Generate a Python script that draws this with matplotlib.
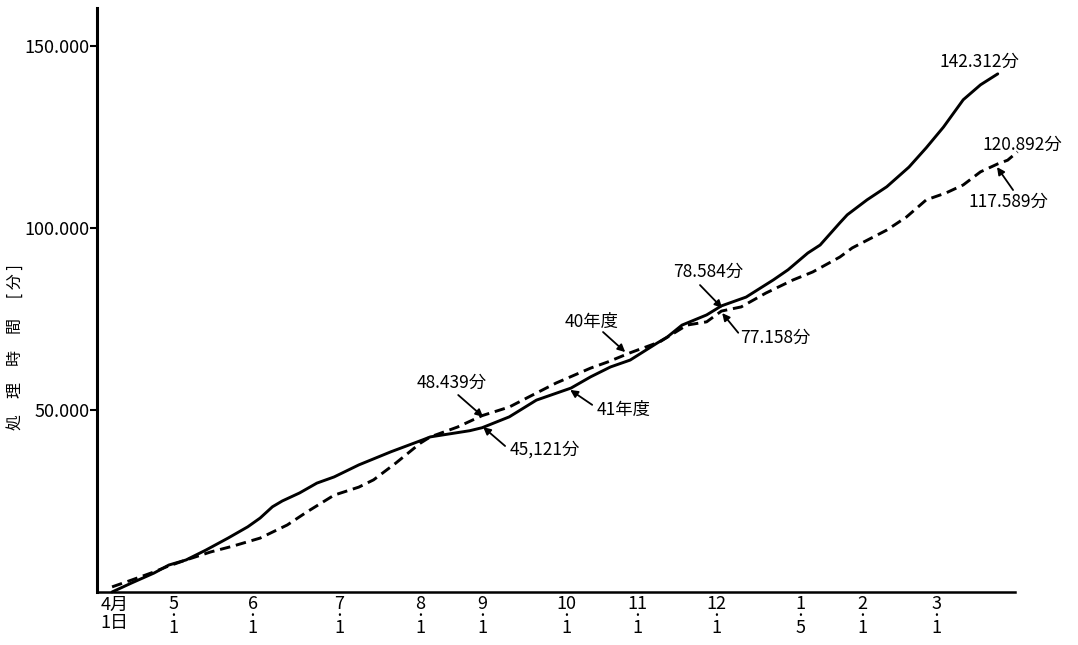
import matplotlib
matplotlib.use("Agg")
import matplotlib.pyplot as plt

plt.rcParams['font.family'] = ['Noto Sans CJK JP', 'DejaVu Sans']

# x = position along the year axis (0 = 4月1日), y = cumulative minutes
days_41 = [0, 8, 17, 23, 30, 38, 47, 55, 60, 65, 69, 76, 83, 90, 100, 113, 126, 129, 145, 150,
           161, 172, 186, 194, 202, 210, 221, 225, 231, 241, 247, 257, 268, 274, 282, 287, 295, 298,
           306, 314, 323, 330, 337, 345, 352, 359]
mins_41 = [0, 2500, 5200, 7400, 8800, 11500, 14800, 17900, 20300, 23400, 25000, 27200, 29900, 31600,
           34900, 38500, 41800, 42600, 44300, 45121, 48100, 52700, 56000, 59100, 61800, 63700, 68400,
           70000, 73300, 76100, 78584, 81000, 85700, 88500, 93100, 95300, 101400, 103600, 107700,
           111300, 116700, 122000, 127700, 135200, 139300, 142312]

days_40 = [0, 8, 17, 22, 30, 40, 49, 60, 71, 79, 90, 100, 106, 115, 125, 129, 140, 150, 161, 169,
           180, 194, 201, 210, 222, 233, 241, 247, 255, 265, 276, 284, 295, 300, 314, 322, 330, 338,
           345, 352, 359, 363, 367]
mins_40 = [1400, 3300, 5500, 6900, 8800, 11000, 12600, 14800, 18400, 22000, 26600, 28800, 30800,
           35400, 40900, 42600, 45300, 48439, 50800, 53600, 57400, 61500, 63200, 65700, 68700, 73300,
           74200, 77158, 78300, 82100, 85700, 87900, 92000, 94500, 99400, 103000, 107700, 109600,
           111800, 115400, 117589, 118600, 120892]

tick_days = [1, 25, 57, 92, 125, 150, 184, 213, 245, 279, 304, 334]
tick_labels = ["4月\n1日", "5\n·\n1", "6\n·\n1", "7\n·\n1", "8\n·\n1", "9\n·\n1", "10\n·\n1",
               "11\n·\n1", "12\n·\n1", "1\n·\n5", "2\n·\n1", "3\n·\n1"]
ytick_vals = [50000, 100000, 150000]
ytick_labels = ["50.000", "100.000", "150.000"]

# (text, text position, arrow tail, arrow head)
notes = [
    ("142.312分", (335.5, 145600), None, None),
    ("120.892分", (352.7, 122800), None, None),
    ("117.589分", (347.0, 107100), (365.2, 110400), (358.7, 116700)),
    ("78.584分", (227.4, 87900), (238.3, 84300), (247.3, 78000)),
    ("77.158分", (254.6, 69800), (253.8, 71200), (247.3, 76600)),
    ("40年度", (183.6, 74200), (199.0, 71400), (208.0, 65900)),
    ("41年度", (196.6, 50000), (194.6, 51400), (185.7, 55500)),
    ("48.439分", (123.6, 57400), (140.3, 54100), (150.4, 48100)),
    ("45,121分", (161.3, 39000), (159.3, 40100), (150.4, 45300)),
]

fig = plt.figure(figsize=(10.78, 6.45), dpi=100)
ax = fig.add_axes([0.090, 0.0822, 0.8516, 0.9054])

ax.plot(days_41, mins_41, color='black', lw=2.1, clip_on=False, solid_capstyle='round')
ax.plot(days_40, mins_40, color='black', lw=2.1, dashes=(3.6, 2.0), clip_on=False)

for text, pos, tail, head in notes:
    ax.text(pos[0], pos[1], text, fontsize=12.5, ha='left', va='center')
    if tail is not None:
        ax.annotate('', xy=head, xytext=tail,
                    arrowprops=dict(arrowstyle='-|>', color='black', lw=1.3,
                                    mutation_scale=11, shrinkA=0, shrinkB=0))

ax.set_xlim(-6.1, 366)
ax.set_ylim(0, 160400)

ax.set_xticks(tick_days)
ax.set_xticklabels(tick_labels, fontsize=13, linespacing=0.55)
ax.get_xticklabels()[0].set_linespacing(1.05)
ax.tick_params(axis='x', length=0, pad=2.5)

ax.set_yticks(ytick_vals)
ax.set_yticklabels(ytick_labels, fontsize=13)
ax.tick_params(axis='y', length=5, width=1.5, pad=0.5, direction='out')

ax.set_ylabel("処　理　時　間　 [ 分 ]", fontsize=11.5)
ax.yaxis.set_label_coords(-0.080, 0.42)

for s in ['top', 'right']:
    ax.spines[s].set_visible(False)
ax.spines['left'].set_linewidth(2.2)
ax.spines['bottom'].set_linewidth(1.8)

fig.savefig("out.png", dpi=100)
